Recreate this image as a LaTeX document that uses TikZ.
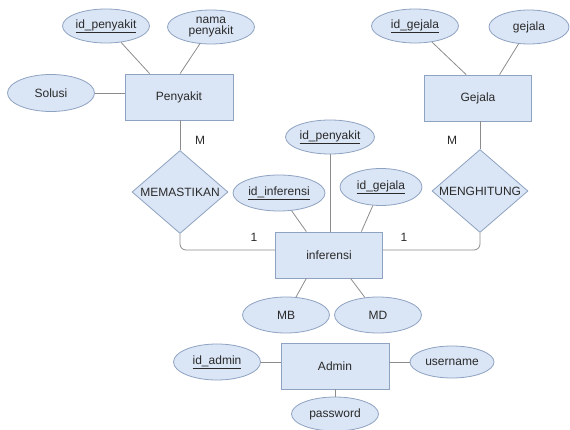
\documentclass[tikz,border=0pt]{standalone}
\usepackage{fontspec}
\setmainfont{Liberation Sans}
\usetikzlibrary{shapes.geometric,calc}
\definecolor{boxfill}{HTML}{DAE5F5}
\definecolor{boxline}{HTML}{8EA2C1}
\definecolor{conn}{HTML}{8C8C8C}
\definecolor{txt}{HTML}{2A2A2A}
\begin{document}
\begin{tikzpicture}[x=1pt,y=-1pt,
  every node/.style={font=\fontsize{12}{13.5}\selectfont, text=txt},
  entity/.style={draw=boxline, fill=boxfill, line width=0.8pt, minimum width=108pt, minimum height=46pt, inner sep=0pt},
  attr/.style={ellipse, draw=boxline, fill=boxfill, line width=0.8pt, minimum width=87pt, minimum height=34pt, inner sep=0pt, align=center},
  rel/.style={diamond, draw=boxline, fill=boxfill, line width=0.8pt, minimum width=96pt, minimum height=83pt, inner sep=0pt},
  link/.style={draw=conn, line width=0.8pt},
  card/.style={inner sep=0pt}]
\useasboundingbox (0,0) rectangle (570,430);

% entities
\node[entity] (pen) at (179,97) {Penyakit};
\node[entity, minimum width=107pt] (gej) at (478,98) {Gejala};
\node[entity, minimum width=107pt] (inf) at (329,255) {inferensi};
\node[entity] (adm) at (335,366) {Admin};

% relationships
\node[rel, label={center:MEMASTIKAN}] (mem) at (180,192) {};
\node[rel, label={center:MENGHITUNG}] (mng) at (480,191) {};

% attributes
\node[attr] (idp) at (106,26) {\underline{id\_penyakit}};
\node[attr] (nama) at (211,27) {nama\\[-2pt]penyakit};
\node[attr, minimum height=37pt] (sol) at (51,93) {Solusi};
\node[attr] (idg) at (415,26) {\underline{id\_gejala}};
\node[attr, minimum width=80pt] (gjl) at (529,27) {gejala};
\node[attr, minimum width=89pt] (idp2) at (330,137) {\underline{id\_penyakit}};
\node[attr, minimum width=92pt, minimum height=36pt] (idi) at (279,193) {\underline{id\_inferensi}};
\node[attr, minimum width=82pt, minimum height=37pt] (idg2) at (381,187) {\underline{id\_gejala}};
\node[attr, minimum height=36pt] (mb) at (286,315) {MB};
\node[attr, minimum height=36pt] (md) at (378,315) {MD};
\node[attr, minimum height=36pt] (ida) at (217,362) {\underline{id\_admin}};
\node[attr, minimum width=84pt, minimum height=32pt] (usr) at (452,362) {username};
\node[attr] (pwd) at (335,414) {password};

% attribute links
\path[link] (idp) -- ($(pen.north west)!.23!(pen.north east)$);
\path[link] (nama) -- ($(pen.north west)!.51!(pen.north east)$);
\path[link] (sol) -- (sol -| pen.west);
\path[link] (idg) -- ($(gej.north west)!.39!(gej.north east)$);
\path[link] (gjl) -- ($(gej.north west)!.70!(gej.north east)$);
\path[link] (idi) -- ($(inf.north west)!.29!(inf.north east)$);
\path[link] (idp2) -- (idp2 |- inf.north);
\path[link] (idg2) -- ($(inf.north west)!.80!(inf.north east)$);
\path[link] (mb) -- ($(inf.south west)!.29!(inf.south east)$);
\path[link] (md) -- ($(inf.south west)!.70!(inf.south east)$);
\path[link] (ida) -- (ida -| adm.west);
\path[link] (usr) -- (usr -| adm.east);
\path[link] (pwd) -- (pwd |- adm.south);

% relationship links
\path[link] (mem.north |- pen.south) -- (mem.north);
\path[link] (mng.north |- gej.south) -- (mng.north);
\path[link, rounded corners=6pt] (mem.south) |- ([yshift=5pt]inf.west);
\path[link, rounded corners=6pt] ([yshift=5pt]inf.east) -| (mng.south);

% cardinalities
\node[card] (m1) at (200,140) {M};
\node[card] (m2) at (452,140) {M};
\node[card] (o1) at (254,237) {1};
\node[card] (o2) at (404,237) {1};
\end{tikzpicture}
\end{document}
